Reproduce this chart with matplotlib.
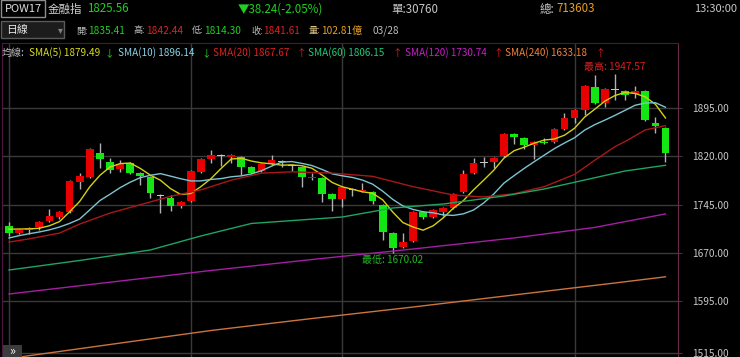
import numpy as np
import matplotlib
matplotlib.use("Agg")
import matplotlib.pyplot as plt
from matplotlib.patches import Rectangle

plt.rcParams['font.family'] = ['Noto Sans CJK TC', 'DejaVu Sans']

W, H = 740, 357

# daily candles (open, high, low, close), oldest first
opens = [1712.0, 1701.1, 1705.8, 1710.4, 1719.7, 1725.9, 1733.7, 1780.2, 1788.0, 1825.2,
         1811.2, 1800.4, 1809.7, 1794.2, 1788.0, 1760.0, 1755.4, 1743.0, 1750.8, 1795.7,
         1815.9, 1822.0, 1819.0, 1819.0, 1803.5, 1797.3, 1808.1, 1811.5, 1806.3, 1803.5,
         1787.0, 1786.4, 1761.6, 1753.9, 1769.2, 1767.0, 1764.7, 1744.6, 1701.1, 1679.4,
         1688.7, 1733.7, 1725.9, 1733.7, 1739.9, 1764.7, 1794.2, 1811.0, 1811.2, 1820.6,
         1854.7, 1848.5, 1837.6, 1842.8, 1842.3, 1862.4, 1879.5, 1891.9, 1927.6, 1902.8,
         1924.2, 1921.4, 1916.7, 1921.4, 1871.7, 1864.0]
highs = [1718.2, 1707.4, 1710.4, 1719.7, 1738.4, 1735.2, 1783.3, 1794.2, 1833.0, 1840.7,
         1817.5, 1814.3, 1811.2, 1795.7, 1789.5, 1761.6, 1760.1, 1750.8, 1798.8, 1817.5,
         1829.9, 1823.6, 1823.6, 1820.6, 1805.0, 1809.7, 1822.1, 1814.3, 1807.6, 1805.0,
         1794.2, 1788.0, 1763.0, 1774.0, 1771.0, 1778.7, 1766.0, 1746.0, 1703.0, 1701.1,
         1735.0, 1735.0, 1738.0, 1741.0, 1763.0, 1798.8, 1817.5, 1819.0, 1819.0, 1856.0,
         1856.0, 1850.0, 1843.5, 1848.5, 1864.0, 1887.2, 1893.5, 1930.6, 1946.2, 1926.0,
         1947.57, 1922.9, 1929.1, 1922.9, 1881.0, 1865.5]
lows = [1696.5, 1699.6, 1699.6, 1705.8, 1718.2, 1722.8, 1732.1, 1769.4, 1786.4, 1801.9,
        1794.2, 1795.7, 1792.6, 1775.6, 1755.4, 1732.1, 1735.2, 1739.9, 1749.2, 1794.2,
        1809.7, 1805.0, 1809.7, 1791.1, 1792.6, 1795.7, 1806.6, 1803.5, 1797.3, 1772.5,
        1783.3, 1749.2, 1735.2, 1741.5, 1758.5, 1765.0, 1746.1, 1690.3, 1670.02, 1678.0,
        1687.0, 1722.8, 1724.5, 1727.5, 1738.4, 1763.0, 1792.6, 1803.5, 1801.9, 1819.0,
        1839.2, 1831.4, 1815.9, 1839.2, 1841.0, 1861.0, 1871.7, 1884.1, 1901.3, 1896.6,
        1907.4, 1907.4, 1910.5, 1874.9, 1856.2, 1811.2]
closes = [1701.1, 1705.8, 1708.9, 1718.2, 1727.5, 1733.7, 1781.8, 1789.5, 1831.4, 1815.9,
          1798.8, 1808.1, 1794.2, 1789.5, 1763.2, 1760.0, 1743.0, 1749.2, 1797.3, 1815.9,
          1822.1, 1822.0, 1822.1, 1803.5, 1794.2, 1808.1, 1814.3, 1811.5, 1806.3, 1788.0,
          1788.0, 1761.6, 1753.9, 1772.5, 1769.2, 1767.8, 1750.8, 1702.7, 1677.9, 1687.2,
          1733.7, 1725.9, 1736.8, 1739.9, 1761.6, 1792.6, 1809.7, 1811.0, 1817.5, 1854.7,
          1850.0, 1837.6, 1842.3, 1842.0, 1862.4, 1879.5, 1891.9, 1929.1, 1902.8, 1924.5,
          1924.2, 1915.2, 1921.4, 1876.4, 1867.1, 1825.56]

# moving averages
sma5 = [1707.0, 1707.3, 1707.5, 1708.5, 1712.3, 1718.8, 1734.0, 1750.1, 1772.8, 1790.5,
        1803.5, 1808.7, 1809.7, 1801.3, 1790.8, 1782.9, 1769.9, 1760.9, 1762.4, 1773.0,
        1785.5, 1801.2, 1815.8, 1817.0, 1812.7, 1809.9, 1808.4, 1806.3, 1806.8, 1805.5,
        1801.5, 1791.0, 1779.5, 1772.8, 1769.0, 1765.0, 1762.8, 1752.6, 1733.6, 1717.3,
        1710.5, 1705.5, 1712.3, 1724.7, 1739.6, 1751.4, 1768.1, 1783.0, 1798.5, 1817.1,
        1828.6, 1834.2, 1840.4, 1845.3, 1846.9, 1852.8, 1863.6, 1881.0, 1893.1, 1905.6,
        1914.4, 1919.1, 1917.6, 1912.3, 1900.8, 1879.49]
sma10 = [1693.4, 1697.0, 1700.0, 1702.7, 1706.0, 1710.4, 1716.0, 1722.8, 1737.0, 1751.4,
         1761.2, 1771.4, 1779.9, 1787.0, 1790.6, 1793.2, 1789.3, 1785.3, 1781.9, 1781.9,
         1784.2, 1785.5, 1788.3, 1789.7, 1792.8, 1797.7, 1804.8, 1811.0, 1811.9, 1809.1,
         1805.7, 1799.7, 1792.9, 1789.8, 1787.3, 1783.2, 1776.9, 1766.0, 1753.2, 1743.1,
         1737.7, 1734.1, 1732.4, 1729.2, 1728.4, 1730.9, 1736.8, 1747.7, 1761.6, 1778.4,
         1790.0, 1801.2, 1811.7, 1821.9, 1832.0, 1840.7, 1848.9, 1860.7, 1869.2, 1876.2,
         1883.6, 1891.4, 1899.3, 1902.7, 1903.2, 1896.14]
sma20_day = [0, 2, 5, 7, 10, 13, 16, 19, 22, 25, 28, 32, 36, 40, 44, 47, 50, 53, 56, 58, 60, 61, 63, 65]
sma20 = [1687.0, 1692.0, 1701.0, 1715.0, 1732.0, 1745.0, 1758.0, 1768.0, 1783.0, 1794.0, 1796.0, 1794.0,
         1789.0, 1773.0, 1760.0, 1757.0, 1762.0, 1773.0, 1792.0, 1814.0, 1835.0, 1843.0, 1861.0, 1867.67]
sma60_day = [0, 7, 14, 19, 24, 33, 38, 43, 49, 53, 57, 61, 65]
sma60 = [1643.7, 1658.5, 1674.8, 1696.5, 1715.9, 1725.9, 1739.9, 1746.1, 1758.5, 1769.4, 1783.3,
         1797.3, 1806.15]
sma120_day = [0, 10, 20, 30, 40, 50, 58, 65]
sma120 = [1606.5, 1624.8, 1643.0, 1660.0, 1676.3, 1693.4, 1709.8, 1730.74]
sma240_day = [0, 10, 20, 30, 40, 50, 60, 65]
sma240 = [1506.5, 1528.2, 1549.9, 1568.5, 1586.3, 1605.0, 1623.6, 1633.18]

month_starts = [0, 18, 33, 56]
price_ticks = [1515, 1595, 1670, 1745, 1820, 1895]

legend_names = ['SMA(5)', 'SMA(10)', 'SMA(20)', 'SMA(60)', 'SMA(120)', 'SMA(240)']
legend_values = [1879.49, 1896.14, 1867.67, 1806.15, 1730.74, 1633.18]
legend_trend = ['down', 'down', 'up', 'up', 'up', 'up']

# the cursor day quote shown in the second header row
quote_labels = ['開:', '高:', '低:', '收:', '量:']
quote_values = ['1835.41', '1842.44', '1814.30', '1841.61', '102.81億']

RED = '#e60000'
GREEN = '#14e614'
ma_colors = ['#d2d214', '#7cc4d0', '#a81818', '#1ea464', '#a41ea4', '#cc7440']
legend_colors = ['#dada1e', '#8ad2e6', '#dd2020', '#20c878', '#c81ec8', '#f0823c']
GRAY = '#bdbdbd'

fig = plt.figure(figsize=(W / 100, H / 100), dpi=100, facecolor='black')

def px(x, y, s, color, size=7.6, ha='left', **kw):
    fig.text(x / W, 1 - y / H, s, color=color, fontsize=size, ha=ha, va='center', **kw)

# main chart area
ax = fig.add_axes([2 / W, 0, 676 / W, 314 / H], facecolor='black')
ax.set_xlim(-0.69, 66.24)
ax.set_ylim(1508.8, 1995.8)

idx = np.arange(len(closes))
o = np.array(opens)
c = np.array(closes)
colors = [RED if cc > oo else (GREEN if cc < oo else '#c8c8c8') for oo, cc in zip(o, c)]
bottoms = np.minimum(o, c)
heights = np.abs(c - o)
flat = heights < 1.5
bottoms = np.where(flat, bottoms - 0.75, bottoms)
heights = np.where(flat, 1.5, heights)

for v in price_ticks:
    ax.axhline(v, color='#3a3a3a', lw=1, zorder=0)
for m in month_starts:
    ax.axvline(m, color='#3a3a3a', lw=1, zorder=0)

ax.vlines(idx, lows, highs, color='#b0b0b0', lw=1, zorder=2)
ax.bar(idx, heights, bottom=bottoms, width=0.76, color=colors, linewidth=0, zorder=3)

ax.plot(idx, sma5, color=ma_colors[0], lw=1, zorder=4)
ax.plot(idx, sma10, color=ma_colors[1], lw=1, zorder=4)
ax.plot(sma20_day, sma20, color=ma_colors[2], lw=1, zorder=4)
ax.plot(sma60_day, sma60, color=ma_colors[3], lw=1, zorder=4)
ax.plot(sma120_day, sma120, color=ma_colors[4], lw=1, zorder=4)
ax.plot(sma240_day, sma240, color=ma_colors[5], lw=1, zorder=4)

hi = int(np.argmax(highs))
lo = int(np.argmin(lows))
ax.annotate(f'最高: {highs[hi]:.2f}', (hi, highs[hi]), xytext=(0, 5), textcoords='offset points',
            ha='center', va='center', color='#d42020', fontsize=7.2)
ax.annotate(f'最低: {lows[lo]:.2f}', (lo, lows[lo]), xytext=(0, -5), textcoords='offset points',
            ha='center', va='center', color='#20b820', fontsize=7.2)

ax.set_xticks([])
ax.yaxis.tick_right()
ax.set_yticks(price_ticks)
ax.set_yticklabels([f'{v:.2f}' for v in price_ticks])
ax.tick_params(axis='y', colors='#3a3a3a', labelcolor='#c8c8c8', labelsize=7.3, length=3, pad=7)
ax.spines['bottom'].set_visible(False)
ax.spines['left'].set_color('#4a1840')
ax.spines['top'].set_color('#4a1840')
ax.spines['right'].set_color('#6a2a4a')

# header row 1
fig.patches.append(Rectangle((0.5 / W, 1 - 17 / H), 44.5 / W, 16.5 / H, transform=fig.transFigure,
                             facecolor='black', edgecolor='#8c8c8c', lw=1))
px(5, 9, 'POW17', '#e0e0e0', 8)
px(48, 9, '金融指', '#d0d0d0', 8.3)
px(87, 9, f'{closes[-1]:.2f}', '#20d020', 8.3)
px(238, 9, '▼38.24(-2.05%)', '#20d020', 8.3)
px(391, 9, '單:30760', '#c8c8c8', 8.3)
px(540, 9, '總:', '#c8c8c8', 8.3)
px(556, 9, '713603', '#e8a020', 8.3)
px(737, 9, '13:30:00', '#c8c8c8', 8, ha='right')

# header row 2
fig.patches.append(Rectangle((1 / W, 1 - 38 / H), 63 / W, 17 / H, transform=fig.transFigure,
                             facecolor='#1c1c1c', edgecolor='#5a5a5a', lw=1))
px(6, 30, '日線', '#e8e8e8', 7.8)
px(60, 30, '▾', '#808080', 7, ha='center')
label_x = [76, 134, 192, 251, 309]
value_colors = ['#20d020', '#e02020', '#20d020', '#e02020', '#e8a020']
label_colors = [GRAY, GRAY, GRAY, GRAY, '#d8c080']
for lab, val, lx, vc, lc in zip(quote_labels, quote_values, label_x, value_colors, label_colors):
    px(lx, 31, lab, lc, 6.6)
    px(lx + 12, 31, val, vc, 7.3)
px(373, 31, '03/28', GRAY, 7.3)

# legend row
px(2, 53, '均線:', GRAY, 7.2)
name_x = [29, 118, 213, 308, 405, 505]
arrow_x = [109, 206, 301, 397, 498, 600]
for n, v, t, col, nx, axx in zip(legend_names, legend_values, legend_trend, legend_colors, name_x, arrow_x):
    px(nx, 53, f'{n} {v:.2f}', col, 7.2)
    px(axx, 53, '↓' if t == 'down' else '↑', '#20d020' if t == 'down' else '#e02020', 7, ha='center')

# small collapse button bottom-left
fig.patches.append(Rectangle((3 / W, 0), 19 / W, 12 / H, transform=fig.transFigure,
                             facecolor='#3c3c3c', edgecolor='none'))
px(12.5, 351, '»', '#ffffff', 9, ha='center')

fig.savefig('out.png', dpi=100, facecolor='black')
